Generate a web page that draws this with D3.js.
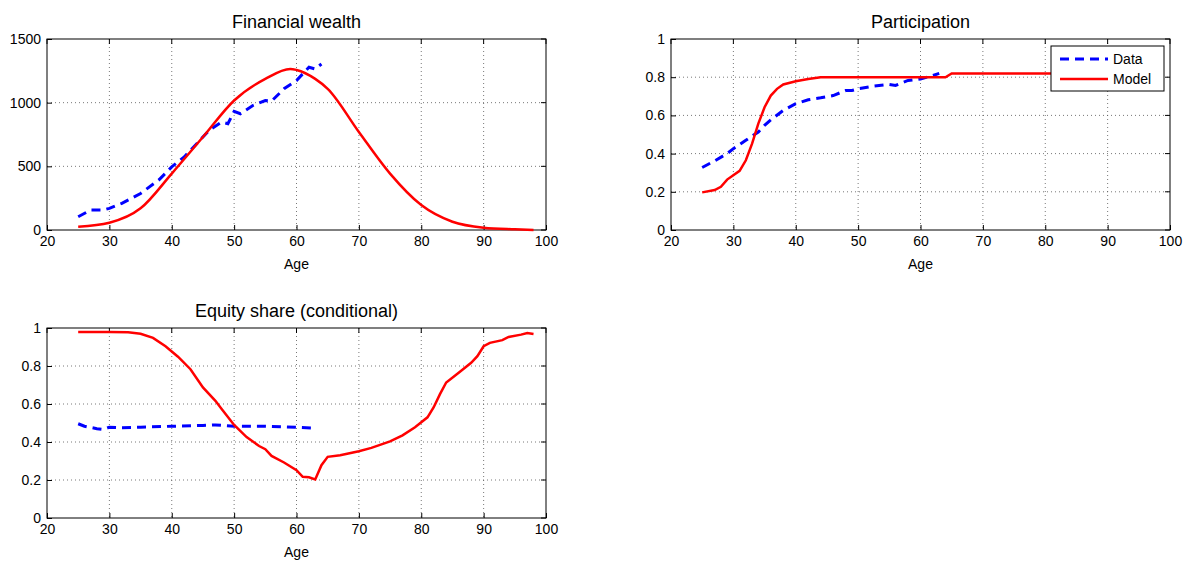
<!DOCTYPE html>
<html><head><meta charset="utf-8">
<script src="https://cdn.jsdelivr.net/npm/d3@7"></script>
<style>body{margin:0;background:#fff}svg{font-family:"Liberation Sans",Arial,sans-serif}</style>
</head><body><svg id="c" width="1191" height="566"></svg>
<script>
const xTicks=[20,30,40,50,60,70,80,90,100];
const wealthModelAge=[25,30,35,40,45,50,55,59,60,63,65,70,75,80,85,90,95,98];
const wealthModel=[26,57,170,443,730,1017,1187,1265,1257,1187,1109,770,443,196,65,18,5,0];
const wealthDataAge=[25,27,29,30,32,35,38,40,42,44,46,48,49,50,51,53,55,56,58,60,62,63,64];
const wealthData=[104,157,157,170,209,287,396,496,574,678,783,848,835,931,913,978,1017,1012,1109,1174,1278,1265,1304];
const partModelAge=[25,27,28,29,31,32,33,34,35,36,37,38,40,42,44,50,64,65,98];
const partModel=[.197,.209,.226,.264,.31,.365,.452,.557,.643,.704,.739,.762,.779,.791,.8,.8,.8,.82,.82];
const partDataAge=[25,27,29,30,32,34,35,36,38,40,42,44,46,48,49,50,52,55,56,58,60,62,63];
const partData=[.327,.362,.4,.426,.47,.513,.548,.577,.626,.661,.682,.692,.704,.73,.73,.739,.751,.762,.757,.783,.791,.809,.82];
const eqModelAge=[25,30,33,35,37,39,41,43,45,47,48,50,52,54,55,56,58,60,61,62,63,64,65,67,70,72,75,77,79,81,82,83,84,86,88,89,90,91,93,94,96,97,98];
const eqModel=[.979,.979,.977,.97,.948,.904,.849,.783,.687,.617,.574,.49,.426,.379,.362,.327,.292,.252,.217,.214,.203,.278,.322,.33,.351,.369,.403,.435,.478,.53,.583,.652,.713,.765,.817,.852,.904,.922,.936,.953,.965,.974,.969];
const eqDataAge=[25,26,28,29,30,32,35,40,45,47,50,55,60,63];
const eqData=[.496,.483,.47,.466,.478,.475,.478,.483,.487,.49,.483,.483,.478,.473];

const svg=d3.select("#c");
function panel(o){
  const x=d3.scaleLinear().domain([20,100]).range([o.l,o.r]);
  const y=d3.scaleLinear().domain(o.yd).range([o.b,o.t]);
  const g=svg.append("g");
  xTicks.slice(1,-1).forEach(v=>g.append("line").attr("x1",x(v)).attr("x2",x(v)).attr("y1",o.t).attr("y2",o.b).attr("stroke","#555").attr("stroke-width",0.8).attr("stroke-dasharray","1,3"));
  o.yt.slice(1,-1).forEach(v=>g.append("line").attr("x1",o.l).attr("x2",o.r).attr("y1",y(v)).attr("y2",y(v)).attr("stroke","#555").attr("stroke-width",0.8).attr("stroke-dasharray","1,3"));
  const ax=g.append("g").attr("transform",`translate(0,${o.b})`).call(d3.axisBottom(x).tickValues(xTicks).tickSize(-5).tickPadding(6));
  const ay=g.append("g").attr("transform",`translate(${o.l},0)`).call(d3.axisLeft(y).tickValues(o.yt).tickSize(-5).tickPadding(6).tickFormat(o.fmt));
  [ax,ay].forEach(a=>{a.select(".domain").remove();a.selectAll("text").attr("font-size",14).attr("fill","#000").attr("font-family","Liberation Sans, Arial");a.selectAll("line").attr("stroke","#000");});
  xTicks.forEach(v=>g.append("line").attr("x1",x(v)).attr("x2",x(v)).attr("y1",o.t).attr("y2",o.t+5).attr("stroke","#000"));
  o.yt.forEach(v=>g.append("line").attr("x1",o.r).attr("x2",o.r-5).attr("y1",y(v)).attr("y2",y(v)).attr("stroke","#000"));
  g.append("rect").attr("x",o.l).attr("y",o.t).attr("width",o.r-o.l).attr("height",o.b-o.t).attr("fill","none").attr("stroke","#000").attr("stroke-width",1);
  const line=d3.line().x(d=>x(d[0])).y(d=>y(d[1]));
  const mline=d3.line().x(d=>x(d[0])).y(d=>y(d[1])).curve(o.smooth?d3.curveMonotoneX:d3.curveLinear);
  g.append("path").datum(d3.zip(o.dA,o.dV)).attr("d",line).attr("fill","none").attr("stroke","#0000ff").attr("stroke-width",3).attr("stroke-dasharray","9,6");
  g.append("path").datum(d3.zip(o.mA,o.mV)).attr("d",mline).attr("fill","none").attr("stroke","#ff0000").attr("stroke-width",2.5);
  g.append("text").attr("x",(o.l+o.r)/2).attr("y",o.t-11).attr("text-anchor","middle").attr("font-size",18).text(o.title);
  g.append("text").attr("x",(o.l+o.r)/2).attr("y",o.b+39).attr("text-anchor","middle").attr("font-size",14).text("Age");
  return {x,y,g};
}
const f1=d=>d===0||d===1?d:d3.format(".1f")(d);
panel({l:47,r:546,t:39,b:230,yd:[0,1500],yt:[0,500,1000,1500],fmt:d3.format("d"),title:"Financial wealth",dA:wealthDataAge,dV:wealthData,mA:wealthModelAge,mV:wealthModel,smooth:true});
const p2=panel({l:671,r:1170,t:39,b:230,yd:[0,1],yt:[0,.2,.4,.6,.8,1],fmt:f1,title:"Participation",dA:partDataAge,dV:partData,mA:partModelAge,mV:partModel});
panel({l:47,r:546,t:328,b:518,yd:[0,1],yt:[0,.2,.4,.6,.8,1],fmt:f1,title:"Equity share (conditional)",dA:eqDataAge,dV:eqData,mA:eqModelAge,mV:eqModel});
const lg=p2.g.append("g");
lg.append("rect").attr("x",1051).attr("y",46).attr("width",113).attr("height",45).attr("fill","#fff").attr("stroke","#000");
lg.append("line").attr("x1",1060).attr("x2",1108).attr("y1",59).attr("y2",59).attr("stroke","#0000ff").attr("stroke-width",3).attr("stroke-dasharray","9,6");
lg.append("line").attr("x1",1060).attr("x2",1108).attr("y1",79).attr("y2",79).attr("stroke","#ff0000").attr("stroke-width",2.5);
lg.append("text").attr("x",1113).attr("y",64).attr("font-size",14).text("Data");
lg.append("text").attr("x",1113).attr("y",84).attr("font-size",14).text("Model");
</script></body></html>
